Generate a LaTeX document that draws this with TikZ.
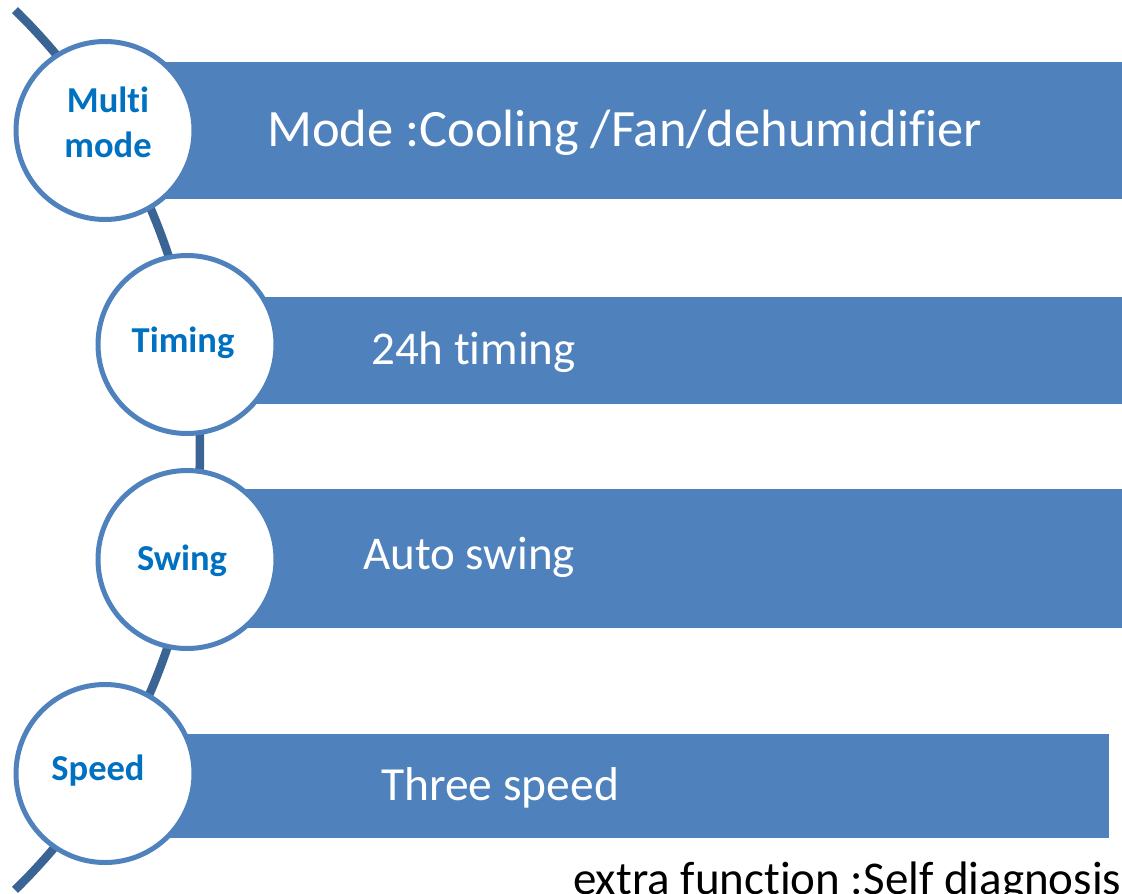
\documentclass[tikz,border=0pt]{standalone}
\usepackage{fontspec}
\setmainfont[Ligatures=NoCommon,RawFeature={-liga;-clig;-dlig}]{Carlito}
\usetikzlibrary{calc}
\definecolor{barblue}{HTML}{4F81BD}
\definecolor{arcblue}{HTML}{3A6494}
\definecolor{labblue}{HTML}{0070C0}
\begin{document}
\begin{tikzpicture}[x=1pt,y=-1pt,
  bar/.style={fill=barblue,draw=none,rectangle,inner sep=0pt,anchor=north west},
  bubble/.style={circle,draw=barblue,line width=5pt,fill=white,minimum size=178pt,inner sep=0pt},
  lab/.style={text=labblue,font=\bfseries\fontsize{36.5}{45}\selectfont,inner sep=0pt,anchor=base},
  bartext/.style={text=white,inner sep=0pt,anchor=base west},
  spine/.style={draw=arcblue,line width=8.5pt}]
\useasboundingbox (0,0) rectangle (1122,894);
\clip (0,0) rectangle (1122,894);
% spine arc
\coordinate (ctr) at (-415.7,450);
\coordinate (arctop) at ($(ctr)+(-45.6:615.7)$);
\draw[spine] (arctop) arc[start angle=-45.6,end angle=45.6,radius=615.7];
% bars
\node[bar,minimum width=1030pt,minimum height=137pt] (b1) at (105,62) {};
\node[bar,minimum width=950pt,minimum height=107pt] (b2) at (187,297) {};
\node[bar,minimum width=950pt,minimum height=139pt] (b3) at (187,489) {};
\node[bar,minimum width=1004pt,minimum height=104pt] (b4) at (105,734) {};
% circles
\node[bubble] (c1) at (105,130.5) {};
\node[bubble] (c2) at (187,344.5) {};
\node[bubble] (c3) at (187,559.5) {};
\node[bubble] (c4) at (105,773.5) {};
% circle labels
\node[lab] (l1a) at (108,112) {Multi};
\node[lab] (l1b) at (108,157) {mode};
\node[lab] (l2) at (183,352) {Timing};
\node[lab] (l3) at (182,570) {Swing};
\node[lab] (l4) at (98,780) {Speed};
% bar texts
\node[bartext,font=\fontsize{52.5}{61}\selectfont] (t1) at (267,146) {Mode :Cooling /Fan/dehumidifier};
\node[bartext,font=\fontsize{47}{56}\selectfont] (t2) at (371,364) {24h timing};
\node[bartext,font=\fontsize{47}{56}\selectfont] (t3) at (363,569) {Auto swing};
\node[bartext,font=\fontsize{47.5}{56}\selectfont] (t4) at (381,800) {Three speed};
\node[inner sep=0pt,anchor=base west,font=\fontsize{47}{56}\selectfont] (extra) at (573,894) {extra function :Self diagnosis};
\end{tikzpicture}
\end{document}
